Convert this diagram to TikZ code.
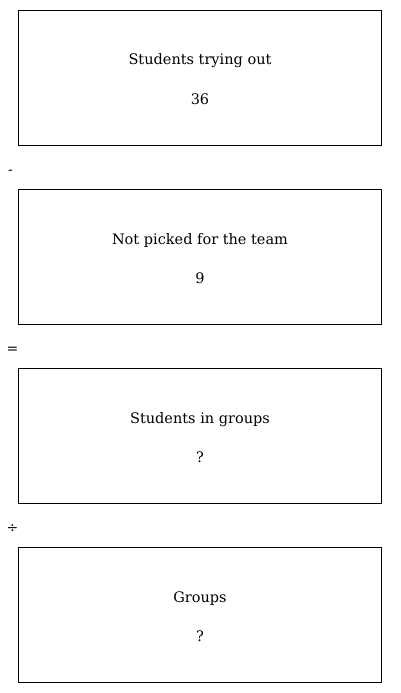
\documentclass[tikz,border=0pt]{standalone}
\usepackage{fontspec}
\setmainfont{DejaVu Serif}
\begin{document}
\begin{tikzpicture}[x=1pt,y=-1pt,
  box/.style={draw=black,line width=0.8pt,minimum width=363pt,minimum height=135pt,anchor=north west,inner sep=0pt},
  lbl/.style={font=\fontsize{14.5}{17}\selectfont,anchor=base},
  op/.style={font=\fontsize{14}{17}\selectfont}]
\useasboundingbox (0,0) rectangle (400,693);
\node[box] (b1) at (18,10) {};
\node[box] (b2) at (18,189) {};
\node[box] (b3) at (18,368) {};
\node[box] (b4) at (18,547) {};
\node[lbl] (t1) at (200,65) {Students trying out};
\node[lbl] (n1) at (200,104) {36};
\node[lbl] (t2) at (200,244) {Not picked for the team};
\node[lbl] (n2) at (200,283) {9};
\node[lbl] (t3) at (200,423) {Students in groups};
\node[lbl] (n3) at (200,462) {?};
\node[lbl] (t4) at (200,602) {Groups};
\node[lbl] (n4) at (200,641) {?};
\node[op] (o1) at (10.5,172) {-};
\node[op] (o2) at (12.5,350) {=};
\node[op] (o3) at (12.5,529) {÷};
\end{tikzpicture}
\end{document}
